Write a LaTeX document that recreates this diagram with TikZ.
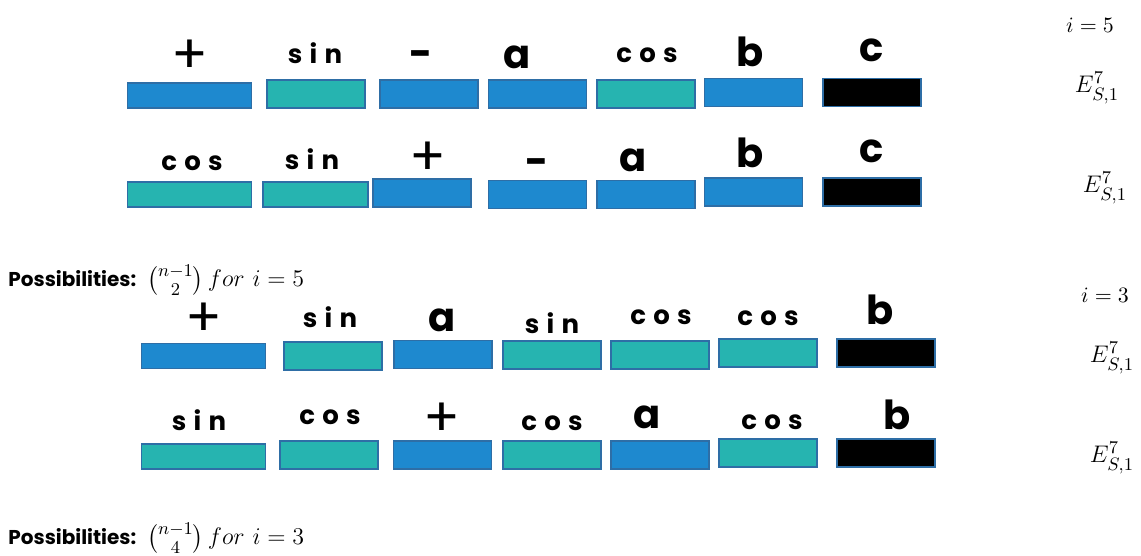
\documentclass[tikz,border=0pt]{standalone}
\usepackage{amsmath}
\usepackage{fontspec}
\usepackage{xcolor}
\usepackage{tikz}
\usetikzlibrary{positioning}

\newfontfamily\tokfont{Poppins}
\newfontfamily\tokspaced[LetterSpace=28]{Poppins}

\definecolor{opblue}{RGB}{30,137,207}
\definecolor{fnteal}{RGB}{38,180,176}
\definecolor{cellline}{RGB}{46,110,166}

\tikzset{
  cell/.style={draw=cellline, line width=0.6pt, minimum width=49pt, minimum height=14pt, inner sep=0pt, outer sep=0pt},
  opcell/.style={cell, fill=opblue},
  fncell/.style={cell, fill=fnteal},
  endcell/.style={cell, fill=black},
  wide/.style={minimum width=62pt, minimum height=12.5pt},
  sym/.style={inner sep=0pt, font=\tokfont\bfseries\fontsize{20}{22}\selectfont},
  opsym/.style={inner sep=0pt, font=\tokfont\fontsize{27}{29}\selectfont},
  fn/.style={inner sep=0pt, font=\tokspaced\bfseries\fontsize{13}{15}\selectfont},
  tag/.style={inner sep=0pt, font=\fontsize{13}{15}\selectfont},
  idx/.style={inner sep=0pt, font=\fontsize{11}{13}\selectfont},
  note/.style={inner sep=0pt, anchor=west, font=\fontsize{12.5}{15}\selectfont}
}

\begin{document}
\begin{tikzpicture}[x=0.5pt, y=-0.5pt]
  \useasboundingbox (0,0) rectangle (1141,556);

  % first row, i = 5
  \node[opcell, wide] (a1) at (189.5,95.5) {};
  \node[fncell] (a2) at (316,94) {};
  \node[opcell] (a3) at (429,94) {};
  \node[opcell] (a4) at (537.5,94) {};
  \node[fncell] (a5) at (646,94) {};
  \node[opcell] (a6) at (753.5,92.5) {};
  \node[endcell] (a7) at (872,92.5) {};

  \node[opsym] (la1) at (190,57) {+};
  \node[fn]  (la2) at (315,53) {sin};
  \node[sym] (la3) at (421,59) {-};
  \node[sym] (la4) at (517,57) {a};
  \node[fn]  (la5) at (647,55) {cos};
  \node[sym] (la6) at (750,52) {b};
  \node[sym] (la7) at (872,50) {c};

  % second row
  \node[fncell, wide] (b1) at (189.5,194.5) {};
  \node[fncell, minimum width=52.5pt, minimum height=12.5pt] (b2) at (315.5,194.5) {};
  \node[opcell] (b3) at (422,193) {};
  \node[opcell] (b4) at (537.5,194.5) {};
  \node[opcell] (b5) at (646,194.5) {};
  \node[opcell] (b6) at (753.5,192) {};
  \node[endcell] (b7) at (872,192) {};

  \node[fn]  (lb1) at (192,163) {cos};
  \node[fn]  (lb2) at (312,159) {sin};
  \node[opsym] (lb3) at (428,159) {+};
  \node[sym] (lb4) at (537,167) {-};
  \node[sym] (lb5) at (633,160) {a};
  \node[sym] (lb6) at (750,153) {b};
  \node[sym] (lb7) at (872,151) {c};

  % third row, i = 3
  \node[opcell, wide] (c1) at (203.5,356) {};
  \node[fncell] (c2) at (333,356) {};
  \node[opcell] (c3) at (443,354.5) {};
  \node[fncell] (c4) at (552,355) {};
  \node[fncell] (c5) at (660,355) {};
  \node[fncell] (c6) at (768,353) {};
  \node[endcell] (c7) at (886,353) {};

  \node[opsym] (lc1) at (204,320) {+};
  \node[fn]  (lc2) at (330,317) {sin};
  \node[sym] (lc3) at (442,320) {a};
  \node[fn]  (lc4) at (552,323) {sin};
  \node[fn]  (lc5) at (661,317) {cos};
  \node[fn]  (lc6) at (768,318) {cos};
  \node[sym] (lc7) at (880,310) {b};

  % fourth row
  \node[fncell, wide] (d1) at (203.5,456.5) {};
  \node[fncell] (d2) at (329,455) {};
  \node[opcell] (d3) at (442.5,455) {};
  \node[fncell] (d4) at (552,455) {};
  \node[opcell] (d5) at (660,455) {};
  \node[fncell] (d6) at (768,453) {};
  \node[endcell] (d7) at (886,453) {};

  \node[fn]  (ld1) at (199,420) {sin};
  \node[fn]  (ld2) at (330,417) {cos};
  \node[opsym] (ld3) at (442,420) {+};
  \node[fn]  (ld4) at (552,423) {cos};
  \node[sym] (ld5) at (647,417) {a};
  \node[fn]  (ld6) at (772,422) {cos};
  \node[sym] (ld7) at (897,415) {b};

  % right column
  \node[idx] (iA) at (1090,25) {$i = 5$};
  \node[tag] (eA) at (1097,88) {$E^{7}_{S,1}$};
  \node[tag] (eB) at (1105,188) {$E^{7}_{S,1}$};
  \node[idx] (iB) at (1105,295) {$i = 3$};
  \node[tag] (eC) at (1112,358) {$E^{7}_{S,1}$};
  \node[tag] (eD) at (1112,458) {$E^{7}_{S,1}$};

  % counts
  \node[note] (pA) at (8,280) {{\tokfont\bfseries\fontsize{10}{12}\selectfont Possibilities:} $\binom{n-1}{2}\,for\ i = 5$};
  \node[note] (pB) at (8,538) {{\tokfont\bfseries\fontsize{10}{12}\selectfont Possibilities:} $\binom{n-1}{4}\,for\ i = 3$};
\end{tikzpicture}
\end{document}
